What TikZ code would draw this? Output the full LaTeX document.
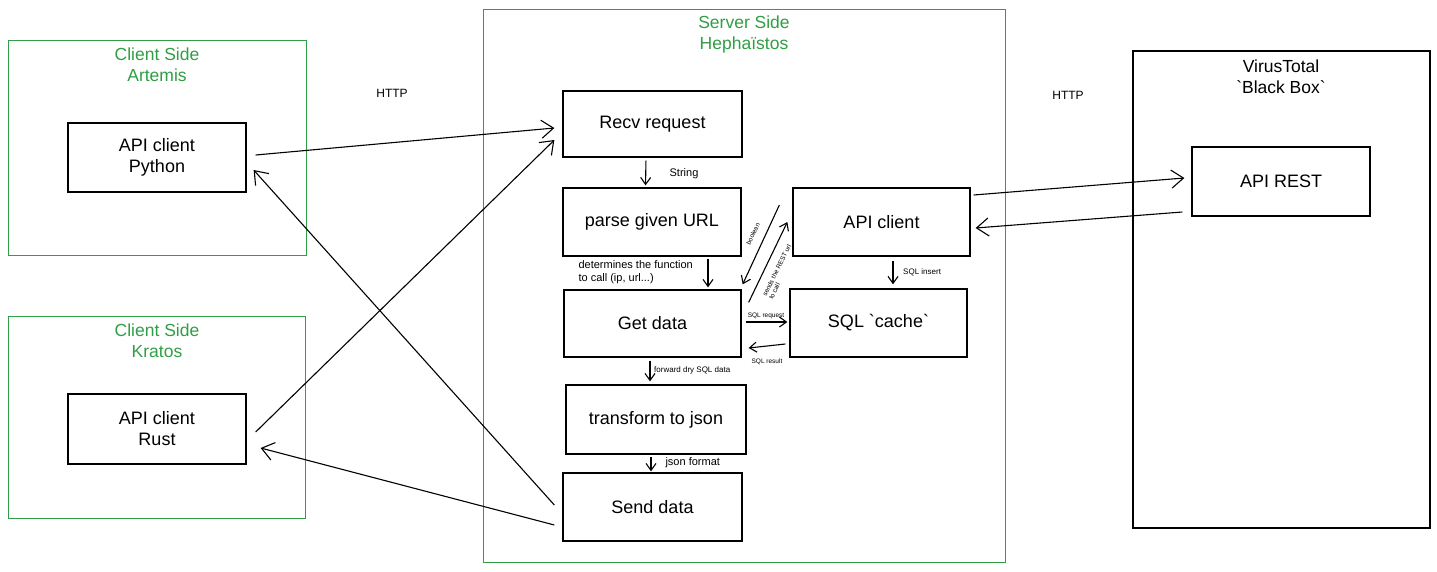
\documentclass[tikz,border=0pt]{standalone}
\usepackage{fontspec}
\setmainfont{Liberation Sans}
\usepackage{xcolor}
\usetikzlibrary{arrows.meta,positioning,calc}
\definecolor{sidegreen}{RGB}{47,158,68}
\newcommand{\tick}{\textasciigrave}
\tikzset{
  container/.style={
    draw=sidegreen,
    line width=0.9pt,
    rectangle,
    inner sep=0pt
  },
  blackbox/.style={
    draw,
    line width=1.1pt,
    rectangle,
    inner sep=0pt
  },
  block/.style={
    draw,
    line width=1.3pt,
    rectangle,
    align=center,
    font=\fontsize{18}{21}\selectfont,
    inner sep=2pt
  },
  title/.style={
    align=center,
    text=sidegreen,
    font=\fontsize{17.5}{21}\selectfont
  },
  note/.style={
    align=left,
    font=\fontsize{11}{13}\selectfont
  },
  tiny/.style={
    align=left,
    inner sep=1pt,
    font=\fontsize{8}{9}\selectfont
  },
  micro/.style={
    align=left,
    inner sep=0.5pt,
    font=\fontsize{6.5}{7}\selectfont
  },
  assoc/.style={-{Straight Barb[length=12pt,width=18pt]},line width=1.1pt},
  flowstep/.style={-{Straight Barb[length=7pt,width=10pt]},line width=1.1pt}
}
\begin{document}
\begin{tikzpicture}[x=1pt,y=-1pt]
  \useasboundingbox (0,0) rectangle (1437,571);
  % containers
  \node[container,minimum width=298,minimum height=215] (artemis) at (157,147.5) {};
  \node[title] (artemistitle) at (157,65) {Client Side\\Artemis};
  \node[container,minimum width=297,minimum height=202] (kratos) at (156.5,417) {};
  \node[title] (kratostitle) at (157,341) {Client Side\\Kratos};
  \node[container,minimum width=522,minimum height=553] (server) at (744,285.5) {};
  \node[title] (servertitle) at (744,34) {Server Side\\Hephaïstos};
  \node[blackbox,minimum width=297,minimum height=477] (virustotal) at (1281.5,289.5) {};
  \node[align=center,font=\fontsize{17.5}{21}\selectfont] (vttitle) at (1281,77) {VirusTotal\\\tick Black Box\tick};
  % clients
  \node[block,minimum width=178,minimum height=69] (python) at (157,157.5) {API client\\Python};
  \node[block,minimum width=178,minimum height=70] (rust) at (157,429) {API client\\Rust};
  % server
  \node[block,minimum width=179,minimum height=66] (recv) at (652.5,124) {Recv request};
  \node[block,minimum width=178,minimum height=68] (parse) at (652,222) {parse given URL};
  \node[block,minimum width=177,minimum height=67] (getdata) at (652.5,323.5) {Get data};
  \node[block,minimum width=180,minimum height=69] (transform) at (656,419.5) {transform to json};
  \node[block,minimum width=179,minimum height=68] (send) at (652.5,507) {Send data};
  \node[block,minimum width=177,minimum height=68] (apiclient) at (881.5,222) {API client};
  \node[block,minimum width=177,minimum height=68] (sqlcache) at (878.5,323) {SQL \tick cache\tick};
  % virustotal
  \node[block,minimum width=178,minimum height=69] (apirest) at (1281,181.5) {API REST};
  % labels
  \node[font=\fontsize{12}{14}\selectfont] (http1) at (392,93) {HTTP};
  \node[font=\fontsize{12}{14}\selectfont] (http2) at (1068,95) {HTTP};
  \node[note] (stringlbl) at (684,174) {String};
  \node[note,anchor=west] (detlbl) at (575,272) {determines the function\\to call (ip, url...)};
  \node[tiny,anchor=west] (fwdlbl) at (653,370) {forward dry SQL data};
  \node[note,anchor=west] (jsonlbl) at (662,463) {json format};
  \node[tiny,anchor=west] (insertlbl) at (902,272) {SQL insert};
  \node[micro] (reqlbl) at (766,316) {SQL request};
  \node[micro] (reslbl) at (767,362) {SQL result};
  \node[micro,rotate=64] (boollbl) at (753,234) {boolean};
  \node[micro,rotate=63.7] (urllbl) at (780,272) {sends the REST url\\to call};
  % client <-> server
  \draw[assoc] ([xshift=9pt,yshift=2.5pt]python.east) -- ([xshift=-8pt,yshift=-4pt]recv.west);
  \draw[assoc] ([xshift=9pt,yshift=-3pt]rust.east) -- ([xshift=-8pt,yshift=-16pt]recv.west);
  \draw[assoc] ([xshift=-8pt,yshift=2pt]send.west) -- ([xshift=7pt,yshift=-12.5pt]python.east);
  \draw[assoc] ([xshift=-8pt,yshift=-18pt]send.west) -- ([xshift=14pt,yshift=-19pt]rust.east);
  % server flow
  \draw[flowstep,shorten <=3pt,shorten >=2pt] ([xshift=-6.5pt]recv.south) -- ([xshift=-6.5pt]parse.north);
  \draw[flowstep,shorten <=2pt,shorten >=2pt] ([xshift=56pt]parse.south) -- ([xshift=55.5pt]getdata.north);
  \draw[flowstep,shorten <=3pt,shorten >=3pt] ([xshift=-2.5pt]getdata.south) -- ([xshift=-6pt]transform.north);
  \draw[flowstep,shorten <=2pt,shorten >=1pt] ([xshift=-5pt]transform.south) -- ([xshift=-1.5pt]send.north);
  \draw[flowstep,shorten <=4pt,shorten >=4pt] ([xshift=11.5pt]apiclient.south) -- ([xshift=14.5pt]sqlcache.north);
  \draw[flowstep] ([xshift=4pt,yshift=1.5pt]getdata.east) -- ([xshift=-2pt,yshift=1pt]sqlcache.west);
  \draw[flowstep] ([xshift=-4pt,yshift=-21pt]sqlcache.west) -- ([xshift=7pt,yshift=-24.5pt]getdata.east);
  \draw[flowstep] ([xshift=-13pt,yshift=17pt]apiclient.west) -- ([xshift=1pt,yshift=5pt]getdata.north east);
  \draw[flowstep] ([xshift=7pt,yshift=-13pt]getdata.north east) -- ([xshift=-5pt]apiclient.west);
  % server <-> virustotal
  \draw[assoc] ([xshift=3pt,yshift=27pt]apiclient.east) -- ([xshift=-7pt,yshift=3.5pt]apirest.west);
  \draw[assoc] ([xshift=-9pt,yshift=-30.5pt]apirest.west) -- ([xshift=5pt,yshift=-6pt]apiclient.east);
\end{tikzpicture}
\end{document}
